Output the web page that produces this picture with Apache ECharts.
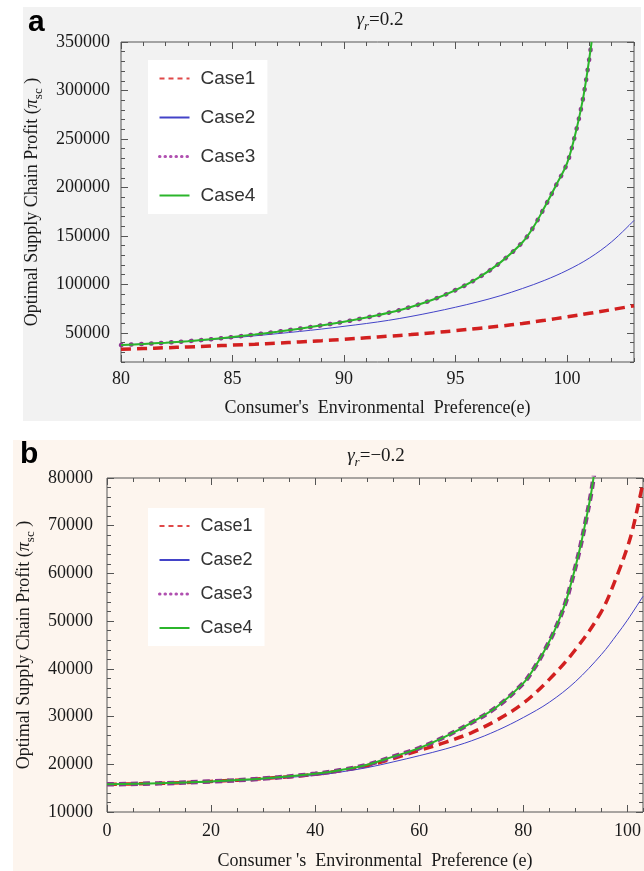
<!DOCTYPE html>
<html>
<head>
<meta charset="utf-8">
<title>Optimal Supply Chain Profit</title>
<script src="https://cdn.jsdelivr.net/npm/echarts@6/dist/echarts.min.js"></script>
<style>
html,body{margin:0;padding:0;background:#fff;}
#main{width:644px;height:871px;}
</style>
</head>
<body>
<div id="main"></div>
<script>
// panel a : gamma_r = 0.2
var aX = [80,81,82,83,84,85,86,87,88,89,90,91,92,93,94,95,96,97,98,99,100,101,102,103];
var aCase1 = [33100,33900,34700,35500,36400,37400,38400,39500,40700,42000,43400,45000,46600,48300,50200,52300,54600,57000,59800,63000,66500,70200,74000,78000];
var aCase2 = [37500,38600,39900,41400,43100,45000,47000,49200,51500,54000,56800,59700,63000,67000,71500,76500,82000,88300,95800,104300,114500,127200,144000,166000];
var aX34 = [80,81,82,83,84,85,86,87,88,89,90,91,92,93,94,95,96,97,98,98.5,99,99.5,100,100.4,100.7,100.9,101.1];
var aCase34 = [37500,38600,39900,41500,43400,45700,48300,51200,54400,57800,61500,65800,70800,76800,84500,94200,106500,122500,143500,159500,180000,202000,225000,258000,290000,318000,350000];
var aXTicks = [80,85,90,95,100];
var aYTicks = [50000,100000,150000,200000,250000,300000,350000];

// panel b : gamma_r = -0.2
var bX1 = [0,10,20,30,40,45,50,55,60,65,70,75,80,85,90,95,98,100,101,102,103];
var bCase1 = [15800,16000,16400,17000,17900,18700,19700,21200,22900,24600,26600,29300,32800,37800,44000,52000,59500,65500,69200,74000,79000];
var bX2 = [0,10,20,30,40,45,50,55,60,65,70,75,80,85,90,95,98,100,103];
var bCase2 = [15800,16000,16300,16900,17700,18400,19300,20500,21800,23200,24900,27100,29800,33000,37300,43000,47200,50200,55200];
var bX34 = [0,10,20,30,40,45,50,55,60,65,70,75,80,82,84,86,88,89,90,91,92,93,93.6];
var bCase34 = [15800,16000,16400,17000,18000,18800,19900,21600,23400,25800,28700,32100,37000,40000,43700,48000,53500,57200,61300,65800,71000,76600,80900];
var bXTicks = [0,20,40,60,80,100];
var bYTicks = [10000,20000,30000,40000,50000,60000,70000,80000];

var serif = "'Liberation Serif','Times New Roman',serif";
var tickColor = '#555';

function pairs(xs, ys){
	var out = [];
	for (var i = 0; i < ys.length; i++) out.push([xs[i], ys[i]]);
	return out;
}

// major axis with labels + minor ticks + mirrored ticks on the opposite side
function makeAxes(grid, pos, min, max, majors, minorStep, label, name){
	var other = {bottom:'top', top:'bottom', left:'right', right:'left'}[pos];
	function base(p){
		return {type:'value', gridIndex:grid, min:min, max:max, position:p,
			axisLine:{show:false, onZero:false}, splitLine:{show:false}};
	}
	var major = Object.assign(base(pos), {
		axisTick:{inside:true, length:7, customValues:majors, lineStyle:{color:tickColor}},
		axisLabel:Object.assign({customValues:majors, color:'#1a1a1a', fontFamily:serif, fontSize:18,
			formatter:function(v){ return String(v); }}, label)
	}, name);
	var minor = Object.assign(base(pos), {
		interval:minorStep,
		axisTick:{inside:true, length:4, lineStyle:{color:tickColor}},
		axisLabel:{show:false}
	});
	var major2 = Object.assign(base(other), {
		axisTick:{inside:true, length:7, customValues:majors, lineStyle:{color:tickColor}},
		axisLabel:{show:false}
	});
	var minor2 = Object.assign(base(other), {
		interval:minorStep,
		axisTick:{inside:true, length:4, lineStyle:{color:tickColor}},
		axisLabel:{show:false}
	});
	return [major, minor, major2, minor2];
}

var yName = 'Optimal Supply Chain Profit ({p|π}{s|sc} )';
var yNameStyle = {
	color:'#1a1a1a', fontFamily:serif, fontSize:18,
	rich:{
		p:{fontFamily:serif, fontSize:18, fontStyle:'italic', color:'#1a1a1a'},
		s:{fontFamily:serif, fontSize:13, color:'#1a1a1a', verticalAlign:'bottom', lineHeight:26}
	}
};
var xNameStyle = {color:'#1a1a1a', fontFamily:serif, fontSize:18};

var xAxes = [].concat(
	makeAxes(0, 'bottom', 80, 103, aXTicks, 1, {margin:8}, {
		name:"Consumer's  Environmental  Preference(e)", nameLocation:'middle', nameGap:37, nameTextStyle:xNameStyle}),
	makeAxes(1, 'bottom', 0, 103, bXTicks, 5, {margin:10}, {
		name:"Consumer 's  Environmental  Preference (e)", nameLocation:'middle', nameGap:40, nameTextStyle:xNameStyle})
);
var yAxes = [].concat(
	makeAxes(0, 'left', 20000, 350000, aYTicks, 10000, {margin:11}, {
		name:yName, nameLocation:'middle', nameGap:70, nameTextStyle:yNameStyle}),
	makeAxes(1, 'left', 10000, 80000, bYTicks, 2000, {margin:14}, {
		name:yName, nameLocation:'middle', nameGap:66, nameTextStyle:yNameStyle})
);

function line(name, axisIdx, xs, ys, style){
	return {
		name:name, type:'line', xAxisIndex:axisIdx, yAxisIndex:axisIdx,
		data:pairs(xs, ys), symbol:'none', smooth:0.35,
		color:style.color, itemStyle:{color:style.color},
		lineStyle:style, animation:false
	};
}

var red = '#d22020', blue = '#4343c8', purple = '#8e3590', green = '#2bb52b';

var series = [
	line('Case1', 0, aX, aCase1, {color:red, width:3.5, type:[10,6]}),
	line('Case2', 0, aX, aCase2, {color:blue, width:1}),
	line('Case3', 0, aX34, aCase34, {color:purple, width:4.5, type:[0.5,9.5], cap:'round'}),
	line('Case4', 0, aX34, aCase34, {color:green, width:2}),
	line('Case1', 4, bX1, bCase1, {color:red, width:3.5, type:[10,6]}),
	line('Case2', 4, bX2, bCase2, {color:blue, width:1}),
	line('Case3', 4, bX34, bCase34, {color:purple, width:4.5, type:[7,5]}),
	line('Case4', 4, bX34, bCase34, {color:green, width:2})
];

var legendData = [
	{name:'Case1', lineStyle:{width:2, type:[5,4], color:'#e04848'}},
	{name:'Case2', lineStyle:{width:2}},
	{name:'Case3', lineStyle:{width:3, type:[0.5,5], cap:'round', color:'#b050b0'}},
	{name:'Case4', lineStyle:{width:2}}
];
function legend(top, gap, fs){
	return {
		orient:'vertical', left:148, top:top, itemWidth:30, itemHeight:14, itemGap:gap,
		backgroundColor:'#fff', padding:[9, 12, 9, 10],
		selectedMode:false, data:legendData,
		itemStyle:{opacity:0},
		textStyle:{fontFamily:"'Liberation Sans Narrow','Liberation Sans',sans-serif", fontSize:fs,
			color:'#333', lineHeight:14, padding:[0,0,0,6]}
	};
}

var titleRich = {
	g:{fontFamily:serif, fontSize:19, fontStyle:'italic', fill:'#1a1a1a', lineHeight:26},
	s:{fontFamily:serif, fontSize:13, fontStyle:'italic', fill:'#1a1a1a', verticalAlign:'bottom', lineHeight:26},
	t:{fontFamily:serif, fontSize:19, fill:'#1a1a1a', lineHeight:26}
};

var chart = echarts.init(document.getElementById('main'));
chart.setOption({
	animation:false,
	backgroundColor:'#fff',
	graphic:{elements:[
		{type:'rect', z:-100, silent:true, shape:{x:23, y:7, width:618, height:414}, style:{fill:'#f2f2f2'}},
		{type:'rect', z:-100, silent:true, shape:{x:13, y:440, width:631, height:431}, style:{fill:'#fdf5ee'}},
		{type:'text', x:28, y:8, style:{text:'a', font:"bold 30px 'Liberation Sans',Arial,sans-serif", fill:'#000'}},
		{type:'text', x:20, y:440, style:{text:'b', font:"bold 30px 'Liberation Sans',Arial,sans-serif", fill:'#000'}},
		{type:'text', x:380, y:20, style:{text:'{g|γ}{s|r}{t|=0.2}', rich:titleRich, align:'center', verticalAlign:'middle'}},
		{type:'text', x:376, y:456, style:{text:'{g|γ}{s|r}{t|=−0.2}', rich:titleRich, align:'center', verticalAlign:'middle'}}
	]},
	grid:[
		{left:121, top:42, width:513, height:320, show:true, borderColor:tickColor, borderWidth:1, backgroundColor:'transparent'},
		{left:107, top:478, width:536, height:334, show:true, borderColor:tickColor, borderWidth:1, backgroundColor:'transparent'}
	],
	legend:[legend(60, 20, 19), legend(508, 16, 18)],
	xAxis:xAxes,
	yAxis:yAxes,
	series:series
});
</script>
</body>
</html>
